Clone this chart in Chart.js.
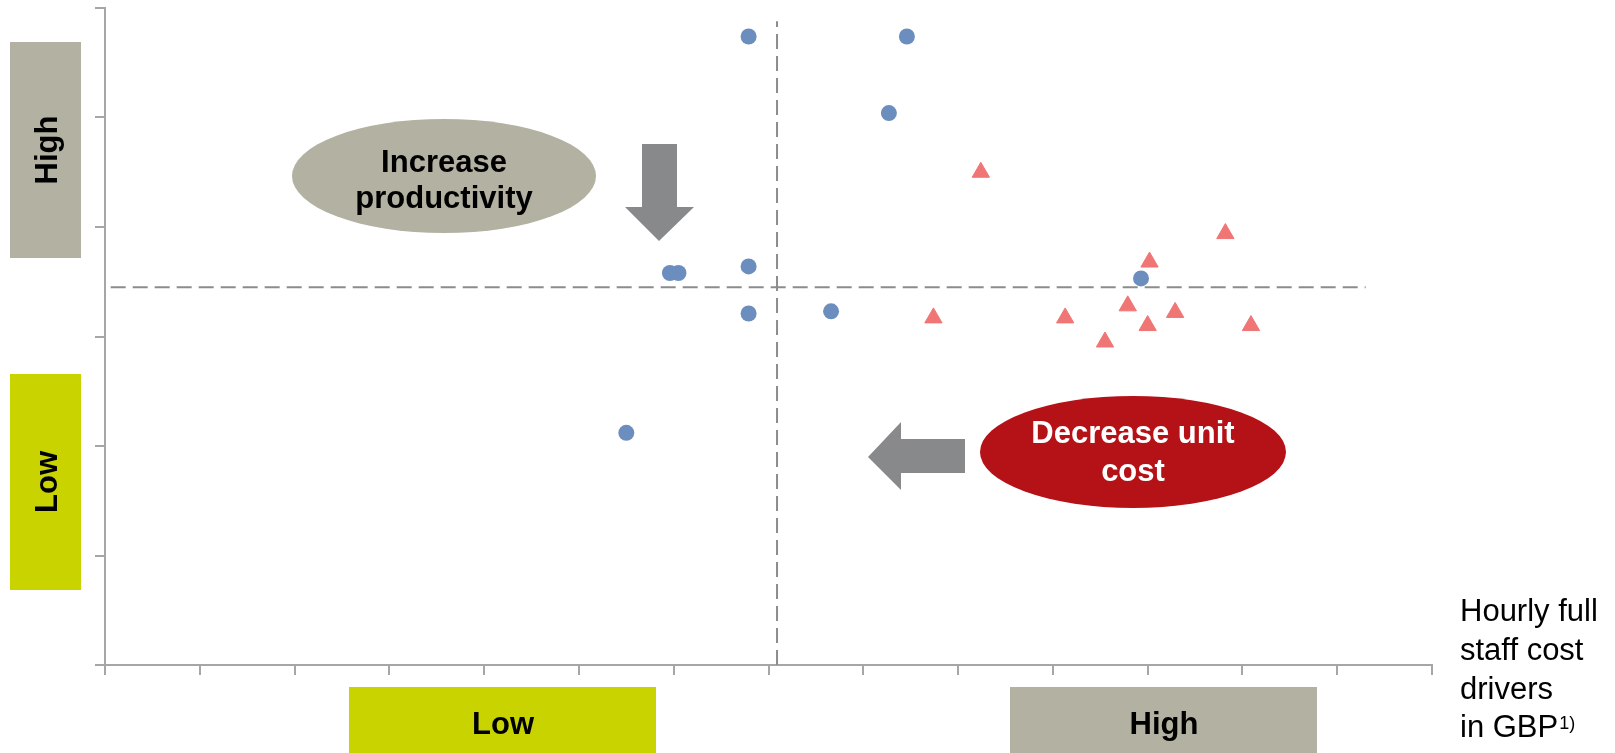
<!DOCTYPE html>
<html>
<head>
<meta charset="utf-8">
<script src="https://cdn.jsdelivr.net/npm/chart.js@4.4.1/dist/chart.umd.min.js"></script>
<style>
  body { margin: 0; background: #fff; }
  #wrap { position: relative; width: 1615px; height: 753px; }
</style>
</head>
<body>
<div id="wrap"><canvas id="chart1"></canvas></div>
<script>
// blue dots
const circleX = [6.79, 8.46, 8.27, 5.96, 6.05, 6.79, 6.79, 7.66, 10.93, 5.50];
const circleY = [5.74, 5.74, 5.04, 3.58, 3.58, 3.64, 3.21, 3.23, 3.53, 2.12];
// red triangles
const triangleX = [9.24, 11.82, 11.02, 10.79, 11.29, 8.74, 10.13, 11.00, 12.09, 10.55];
const triangleY = [4.50, 3.94, 3.68, 3.28, 3.22, 3.17, 3.17, 3.10, 3.10, 2.95];
// dashed split lines
const splitX = 7.09;
const splitY = 3.45;
const splitXRange = [0.06, 13.3];
const splitYRange = [0, 5.88];
// axis ranges (ticks every 1, no labels)
const xMax = 14;
const yMax = 6;
// category labels
const lowLabel = "Low";
const highLabel = "High";
const xTitle = ["Hourly full", "staff cost", "drivers", "in GBP"];
const xTitleNote = "1)";
const upNote = ["Increase", "productivity"];
const downNote = ["Decrease unit", "cost"];

const FONT = "'Liberation Sans', Arial, Helvetica, sans-serif";
const GREEN = "rgb(200,211,0)";
const GREY = "rgb(178,177,162)";
const RED = "rgb(181,18,23)";
const ARROW = "rgb(136,137,139)";

function toPoints(xs, ys) {
  return xs.map((x, i) => ({ x: x, y: ys[i] }));
}

//boxes, ellipses and arrows around the plot
const decorations = {
  id: 'decorations',
  afterDraw(chart) {
    const ctx = chart.ctx;
    ctx.save();

    // left boxes
    ctx.fillStyle = GREY;
    ctx.fillRect(10, 42, 71, 216);
    ctx.fillStyle = GREEN;
    ctx.fillRect(10, 374, 71, 216);
    // bottom boxes
    ctx.fillStyle = GREEN;
    ctx.fillRect(349, 687, 307, 66);
    ctx.fillStyle = GREY;
    ctx.fillRect(1010, 687, 307, 66);

    ctx.fillStyle = "#000";
    ctx.font = "bold 31px " + FONT;
    ctx.textAlign = "center";
    ctx.textBaseline = "alphabetic";
    rotText(ctx, highLabel, 57, 150);
    rotText(ctx, lowLabel, 57, 482);
    ctx.fillText(lowLabel, 503, 734);
    ctx.fillText(highLabel, 1164, 734);

    // ellipses
    ctx.fillStyle = GREY;
    ctx.beginPath();
    ctx.ellipse(444, 176, 152, 57, 0, 0, Math.PI * 2);
    ctx.fill();
    ctx.fillStyle = RED;
    ctx.beginPath();
    ctx.ellipse(1133, 452, 153, 56, 0, 0, Math.PI * 2);
    ctx.fill();

    ctx.fillStyle = "#000";
    ctx.fillText(upNote[0], 444, 172);
    ctx.fillText(upNote[1], 444, 208);
    ctx.fillStyle = "#fff";
    ctx.fillText(downNote[0], 1133, 443);
    ctx.fillText(downNote[1], 1133, 481);

    // arrows
    ctx.fillStyle = ARROW;
    ctx.beginPath();
    ctx.moveTo(642, 144);
    ctx.lineTo(677, 144);
    ctx.lineTo(677, 207);
    ctx.lineTo(694, 207);
    ctx.lineTo(659, 241);
    ctx.lineTo(625, 207);
    ctx.lineTo(642, 207);
    ctx.closePath();
    ctx.fill();
    ctx.beginPath();
    ctx.moveTo(965, 439);
    ctx.lineTo(965, 473);
    ctx.lineTo(901, 473);
    ctx.lineTo(901, 490);
    ctx.lineTo(868, 457);
    ctx.lineTo(901, 422);
    ctx.lineTo(901, 439);
    ctx.closePath();
    ctx.fill();

    // axis title on the right
    ctx.fillStyle = "#000";
    ctx.font = "31px " + FONT;
    ctx.textAlign = "left";
    const lines = [621, 660, 699, 737];
    xTitle.forEach((t, i) => ctx.fillText(t, 1460, lines[i]));
    const w = ctx.measureText(xTitle[3]).width;
    ctx.font = "18px " + FONT;
    ctx.fillText(xTitleNote, 1460 + w + 1, 729);

    ctx.restore();
  }
};

function rotText(ctx, text, x, y) {
  ctx.save();
  ctx.translate(x, y);
  ctx.rotate(-Math.PI / 2);
  ctx.fillText(text, 0, 0);
  ctx.restore();
}

const axisOpts = (max) => ({
  type: 'linear',
  min: 0,
  max: max,
  ticks: { display: false, stepSize: 1 },
  grid: { display: true, drawOnChartArea: false, drawTicks: true, tickLength: 10, color: '#a6a6a6', lineWidth: 2 },
  border: { display: true, color: '#a6a6a6', width: 2 }
});

const chart1 = new Chart(document.getElementById('chart1'), {
  type: 'scatter',
  data: {
    datasets: [
      {
        data: toPoints(circleX, circleY),
        pointStyle: 'circle',
        pointRadius: 8,
        pointBorderWidth: 0,
        backgroundColor: 'rgb(108,142,191)',
        borderColor: 'rgb(108,142,191)'
      },
      {
        data: toPoints(triangleX, triangleY),
        pointStyle: 'triangle',
        pointRadius: 10,
        pointBorderWidth: 1,
        backgroundColor: 'rgb(240,117,117)',
        borderColor: 'rgb(240,117,117)'
      },
      {
        data: toPoints(splitXRange, [splitY, splitY]),
        showLine: true,
        pointRadius: 0,
        borderColor: 'rgb(140,140,140)',
        borderWidth: 2,
        borderDash: [15, 7]
      },
      {
        data: toPoints([splitX, splitX], splitYRange),
        showLine: true,
        pointRadius: 0,
        borderColor: 'rgb(140,140,140)',
        borderWidth: 2,
        borderDash: [15, 7]
      }
    ]
  },
  options: {
    responsive: true,
    maintainAspectRatio: false,
    animation: false,
    layout: { autoPadding: false, padding: { left: 95, right: 183, top: 8, bottom: 78 } },
    plugins: { legend: { display: false }, tooltip: { enabled: false } },
    scales: {
      x: axisOpts(xMax),
      y: axisOpts(yMax)
    }
  },
  plugins: [decorations]
});
</script>
</body>
</html>
